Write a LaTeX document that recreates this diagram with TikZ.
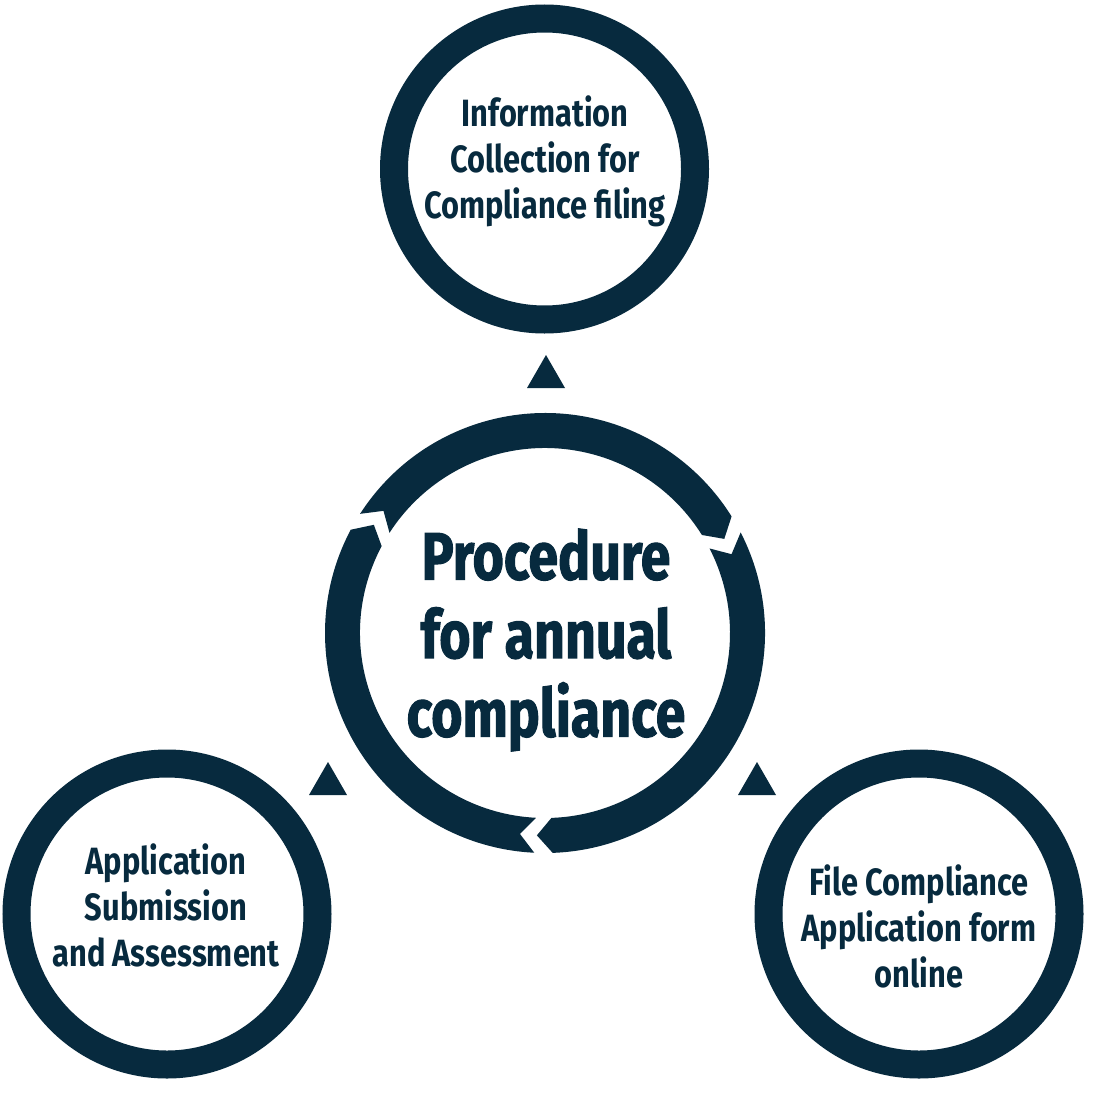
\documentclass[tikz,border=0pt]{standalone}
\usepackage{fontspec}
\setmainfont{Fira Sans}[FakeStretch=0.81]
\newfontfamily\titlefont{Fira Sans}[FakeStretch=0.8, FakeBold=1.5]
\definecolor{navy}{HTML}{072A3E}
\begin{document}
\begin{tikzpicture}[x=1pt,y=1pt,
  ring/.style={circle, draw=navy, line width=28pt, minimum size=301pt, inner sep=0pt},
  steptext/.style={text=navy, align=center, font=\bfseries\fontsize{38}{46}\selectfont},
  tri/.style={fill=navy},
  titletext/.style={text=navy, align=center, font=\titlefont\bfseries\fontsize{67}{78.5}\selectfont}]
\useasboundingbox (0,0) rectangle (1100,-1100);
\fill[white] (0,0) rectangle (1100,-1100);
% outer step circles
\node[ring] (info) at (544.5,-169) {};
\node[ring] (submit) at (167,-914) {};
\node[ring] (file) at (919,-914) {};
\node[steptext] (infotext) at (545,-161) {Information\\Collection for\\Compliance filing};
\node[steptext] (submittext) at (166,-905) {Application\\Submission\\and Assessment};
\node[steptext] (filetext) at (919,-926) {File Compliance\\Application form\\online};
% central cycle
\node[titletext] (proc) at (546,-640) {Procedure\\for annual\\compliance};
\begin{scope}[shift={(545,-633)}]
\foreach \p in {147.7,27.7,-92.3}{
  \fill[navy] (\p-0.5:220) arc[start angle=\p-0.5, end angle=\p-115.7, radius=220]
    -- (\p-120:202.5) -- (\p-115.7:185)
    arc[start angle=\p-115.7, end angle=\p-0.5, radius=185]
    -- (\p-4.8:202.5) -- cycle;
}
\end{scope}
% triangles
\fill[tri] (546,-355) -- (565,-388) -- (527,-388) -- cycle;
\fill[tri] (328,-762) -- (347,-795) -- (309,-795) -- cycle;
\fill[tri] (757,-762) -- (776,-795) -- (738,-795) -- cycle;
\end{tikzpicture}
\end{document}
